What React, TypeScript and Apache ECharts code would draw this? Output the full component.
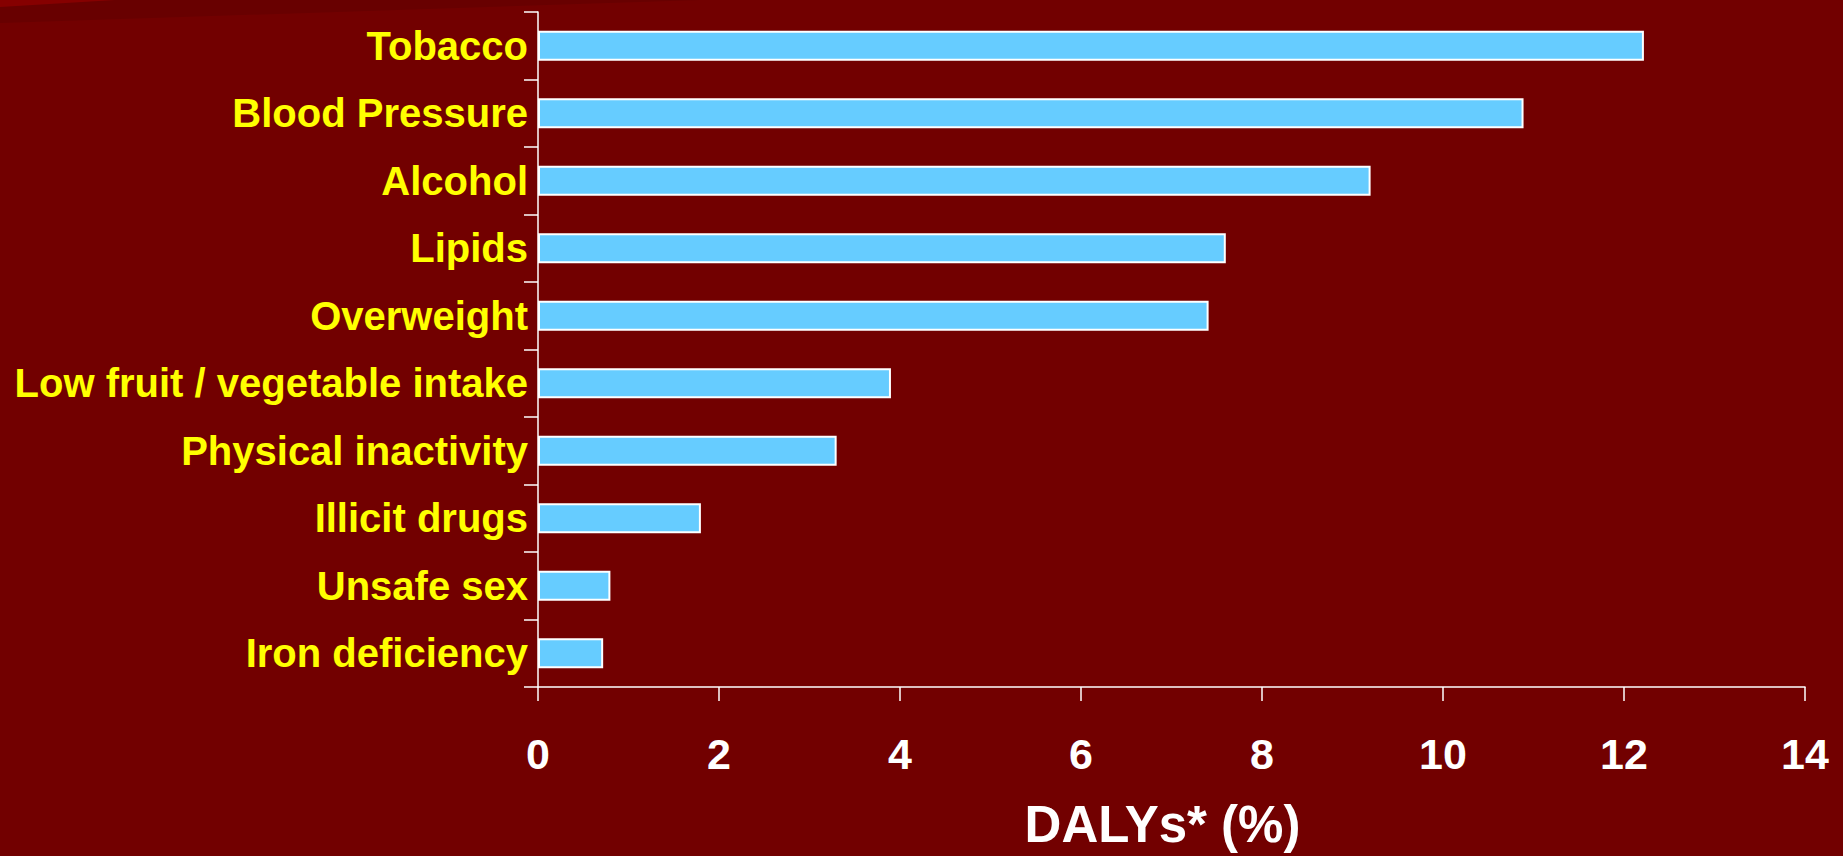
import React, { useEffect, useRef } from "react";
import * as echarts from "echarts";

const categories = [
  "Tobacco",
  "Blood Pressure",
  "Alcohol",
  "Lipids",
  "Overweight",
  "Low fruit / vegetable intake",
  "Physical inactivity",
  "Illicit drugs",
  "Unsafe sex",
  "Iron deficiency",
];
const values = [12.22, 10.89, 9.2, 7.6, 7.41, 3.9, 3.3, 1.8, 0.8, 0.72];
const xTicks = { min: 0, max: 14, interval: 2 };
const xName = "DALYs* (%)";

export default function App() {
  const ref = useRef<HTMLDivElement>(null);
  useEffect(() => {
    if (!ref.current) return;
    const chart = echarts.init(ref.current, null, { renderer: "svg" });
    chart.setOption({
      animation: false,
      backgroundColor: "#720000",
      graphic: [
        {
          type: "polygon",
          silent: true,
          z: -10,
          shape: { points: [[0, 0], [700, 0], [0, 23]] },
          style: { fill: "#680000" },
        },
        {
          type: "polygon",
          silent: true,
          z: -9,
          shape: { points: [[0, 0], [115, 0], [0, 7]] },
          style: { fill: "#860000" },
        },
      ],
      grid: { left: 538, right: 38, top: 12, bottom: 169, containLabel: false },
      xAxis: {
        type: "value",
        min: xTicks.min,
        max: xTicks.max,
        interval: xTicks.interval,
        name: xName,
        nameLocation: "middle",
        nameGap: 112,
        nameTextStyle: {
          color: "#ffffff",
          fontFamily: "Liberation Sans, Arial, sans-serif",
          fontWeight: "bold",
          fontSize: 51,
          padding: [0, 18, 0, 0],
        },
        splitLine: { show: false },
        axisLine: { show: true, lineStyle: { color: "#ffffff", width: 1.5 } },
        axisTick: { show: true, length: 14, lineStyle: { color: "#ffffff", width: 1.5 } },
        axisLabel: {
          color: "#ffffff",
          fontFamily: "Liberation Sans, Arial, sans-serif",
          fontWeight: "bold",
          fontSize: 43,
          margin: 45,
        },
      },
      yAxis: {
        type: "category",
        inverse: true,
        data: categories,
        axisLine: { show: true, lineStyle: { color: "#ffffff", width: 1.5 } },
        axisTick: { show: true, length: 14, lineStyle: { color: "#ffffff", width: 1.5 } },
        axisLabel: {
          color: "#ffff00",
          fontFamily: "Liberation Sans, Arial, sans-serif",
          fontWeight: "bold",
          fontSize: 40,
          margin: 10,
        },
      },
      series: [
        {
          type: "bar",
          data: values,
          barWidth: 30,
          itemStyle: { color: "#66ccff", borderColor: "#ffffff", borderWidth: 2 },
        },
      ],
    });
    return () => chart.dispose();
  }, []);
  return (
    <div
      ref={ref}
      style={{ position: "fixed", left: 0, top: 0, width: 1843, height: 856 }}
    />
  );
}
